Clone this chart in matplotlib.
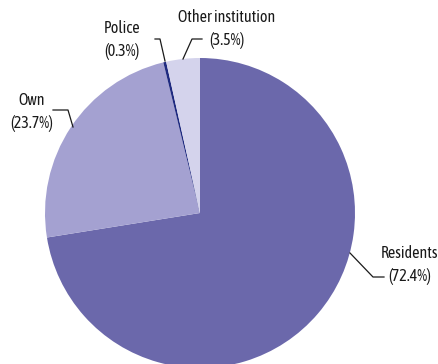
import matplotlib.pyplot as plt
from matplotlib import font_manager
import numpy as np

# data
labels = ["Residents", "Own", "Police", "Other institution"]
shares = [72.4, 23.7, 0.3, 3.5]
colors = ["#6b68ab", "#a4a1d1", "#1f2a80", "#d4d3ec"]

# condensed font if available, else DejaVu
names = {f.name for f in font_manager.fontManager.ttflist}
narrow = [n for n in ['Asap Condensed', 'Archivo Narrow', 'Barlow Semi Condensed'] if n in names]
plt.rcParams['font.family'] = narrow[:1] + ['DejaVu Sans']

fig = plt.figure(figsize=(4.38, 3.64), dpi=100)
W, H = 438, 364
cx, cy, r = 200, 213, 155
ax = fig.add_axes([(cx - r) / W, (H - cy - r) / H, 2 * r / W, 2 * r / H])
ax.pie(shares, colors=colors, startangle=90, counterclock=False, radius=1,
       wedgeprops=dict(linewidth=0))
ax.set_xlim(-1, 1)
ax.set_ylim(-1, 1)
ax.set_aspect('equal')
ax.axis('off')


def d(px, py):
    # pixel -> data coordinates
    return (px - cx) / r, (cy - py) / r


# label positions (pixel) and leader lines
lab_pos = {
    "Residents": (410, 265),
    "Own": (32, 112),
    "Police": (122, 40),
    "Other institution": (227, 29),
}
leaders = {
    "Residents": [(350, 253), (373, 277), (384, 277)],
    "Own": [(53, 110), (68, 110), (73, 127)],
    "Police": [(155, 39), (160, 39), (165, 61)],
    "Other institution": [(202, 39), (192, 39), (183, 59)],
}

fs = 11.5 if narrow else 9.5
for lab, val in zip(labels, shares):
    x, y = d(*lab_pos[lab])
    ax.text(x, y, f"{lab}\n({val}%)", ha='center', va='center',
            fontsize=fs, linespacing=1.5, color='#1a1a1a', clip_on=False)
    pts = np.array([d(*p) for p in leaders[lab]])
    ax.plot(pts[:, 0], pts[:, 1], color='#1a1a1a', lw=0.9, clip_on=False)

fig.savefig("out.png", dpi=100)
